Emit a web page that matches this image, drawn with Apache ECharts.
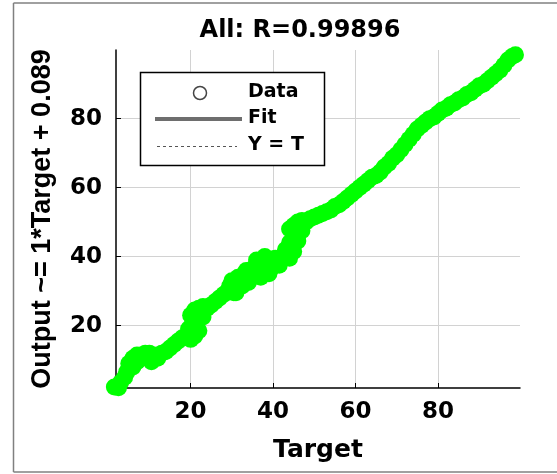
<!DOCTYPE html>
<html><head><meta charset="utf-8">
<script src="https://cdn.jsdelivr.net/npm/echarts@6/dist/echarts.min.js"></script>
<style>html,body{margin:0;padding:0;background:#fff;overflow:hidden}#c{width:557px;height:474px;display:block}</style>
</head><body><div id="c"></div>
<script>
const titleText = 'All: R=0.99896';
const xName = 'Target';
const yName = 'Output ~= 1*Target + 0.089';
const axisMin = 1.9, axisMax = 99.9;
const tickValues = [20, 40, 60, 80];
const legendLabels = ['Data', 'Fit', 'Y = T'];

// Target values (x) of the data points
const targets = [
  1.5, 2.5, 3, 4, 4.5, 5, 5, 6, 6, 7,
  7, 8, 8, 9, 9, 10, 10, 11, 12, 13,
  14, 15, 16, 17, 18, 19, 19.5, 20, 20, 20,
  21, 21, 21, 22, 22, 22, 23, 23, 24, 25,
  26, 27, 28, 29, 30, 31, 32, 33, 33, 34,
  35, 35, 36, 36, 37, 38, 38, 39, 40, 41,
  42, 43, 43, 44, 44, 44, 45, 45, 45, 46,
  46, 46, 47, 47, 48, 49, 50, 51, 52, 53,
  54, 55, 56, 57, 58, 59, 60, 61, 62, 63,
  64, 65, 66, 67, 68, 69, 70, 71, 72, 73,
  74, 75, 76, 77, 78, 79, 80, 81, 82, 83,
  84, 85, 86, 87, 88, 89, 90, 91, 92, 93,
  94, 95, 96, 97, 98, 98.8,
  10.5, 12, 29.5, 30.5, 31.5, 32.5, 33.5, 39.5, 40.5, 41.5,
  30, 31, 34, 36, 37, 38, 39
];
// Network outputs (y) of the data points
const outputs = [
  2.2, 2.0, 3.5, 5, 6.5, 7.5, 9, 8, 10.5, 9.5,
  11.5, 10.5, 11.5, 11, 12, 11, 12, 11.5, 11.5, 12,
  12.5, 13.5, 14.5, 15.5, 16.5, 17, 19, 16, 19.5, 23,
  17, 20.5, 24.5, 18.5, 22, 25, 22.5, 25.5, 25, 26,
  27, 28, 29, 30, 31, 32, 33, 33.5, 35, 35,
  34, 36.5, 34.5, 37.5, 36.5, 35.5, 38.5, 37.5, 38, 38.5,
  39.5, 40, 42, 39.5, 44, 48, 41.5, 45, 49, 44.5,
  47.5, 50, 47.5, 50.5, 50, 51, 51.5, 52, 52.5, 53,
  53.5, 54.5, 55, 56, 57, 58, 59, 60, 61, 62,
  63, 63.5, 64.5, 66, 67, 68.5, 69.5, 71, 72.5, 74,
  75.5, 77, 78, 79, 80, 80.5, 81.5, 82.5, 83, 84,
  84.5, 85.5, 86, 87, 87.5, 88.5, 89.5, 90, 91, 92,
  93, 94, 95.5, 97, 98, 98.5,
  9.5, 10.5, 31.5, 29.5, 34, 31.5, 36, 36.5, 39.5, 37.5,
  33, 29.5, 32.5, 39, 34, 40, 35
];
const fitLine = [[1.9, 1.989], [99.9, 99.989]];
const identityLine = [[1.9, 1.9], [99.9, 99.9]];

const scatterData = targets.map((t, i) => [t, outputs[i]]);
const hFont = 'DejaVu Sans';

function axisCfg(name, gap, isY) {
  return {
    type: 'value', min: axisMin, max: axisMax,
    name: name, nameLocation: 'middle', nameGap: gap,
    nameRotate: isY ? 90 : 0,
    nameTextStyle: isY
      ? { fontFamily: 'Liberation Sans', fontWeight: 'bold', fontSize: 27, color: '#000' }
      : { fontFamily: hFont, fontWeight: 'bold', fontSize: 25, color: '#000' },
    axisLine: { show: true, onZero: false, lineStyle: { color: '#000', width: 1.5 } },
    axisTick: { show: true, inside: true, length: 5, customValues: tickValues, lineStyle: { color: '#000', width: 1 } },
    axisLabel: { customValues: tickValues, fontFamily: hFont, fontWeight: 'bold', fontSize: 23, color: '#000', margin: isY ? 14 : 13 },
    splitLine: { show: true, lineStyle: { color: '#d2d2d2', width: 1 } }
  };
}

const chart = echarts.init(document.getElementById('c'), null, { renderer: 'canvas' });
chart.setOption({
  animation: false,
  backgroundColor: '#fff',
  title: {
    text: titleText, left: 295, top: 14, textAlign: 'center',
    textStyle: { fontFamily: hFont, fontWeight: 'bold', fontSize: 24, color: '#000' }
  },
  grid: { left: 116, right: 37, top: 50, bottom: 86 },
  xAxis: axisCfg(xName, 50, false),
  yAxis: axisCfg(yName, 60, true),
  series: [
    { name: legendLabels[2], type: 'line', data: identityLine, symbol: 'none', z: 1,
      lineStyle: { color: '#444', width: 1, type: [3, 3] } },
    { name: legendLabels[1], type: 'line', data: fitLine, symbol: 'none', z: 2,
      lineStyle: { color: '#6e6e6e', width: 3 } },
    { name: legendLabels[0], type: 'scatter', data: scatterData, symbol: 'circle', symbolSize: 17,
      clip: false, z: 3, itemStyle: { color: '#00ff00', opacity: 1 } }
  ],
  graphic: [
    { type: 'line', shape: { x1: 13.5, y1: 3, x2: 557, y2: 3 }, style: { stroke: '#808080', lineWidth: 1.5 }, silent: true },
    { type: 'line', shape: { x1: 13.5, y1: 3, x2: 13.5, y2: 472 }, style: { stroke: '#808080', lineWidth: 1.5 }, silent: true },
    { type: 'line', shape: { x1: 13.5, y1: 472, x2: 557, y2: 472 }, style: { stroke: '#808080', lineWidth: 1.5 }, silent: true },
    { type: 'rect', z: 100, shape: { x: 140.5, y: 72.5, width: 184, height: 93 }, style: { fill: '#fff', stroke: '#000', lineWidth: 1.5 } },
    { type: 'circle', z: 101, shape: { cx: 200, cy: 93, r: 6.5 }, style: { fill: '#fff', stroke: '#444', lineWidth: 1.5 } },
    { type: 'text', z: 101, x: 248, y: 92, style: { text: legendLabels[0], font: 'bold 19px "DejaVu Sans"', fill: '#000', verticalAlign: 'middle' } },
    { type: 'line', z: 101, shape: { x1: 155, y1: 119, x2: 242, y2: 119 }, style: { stroke: '#6e6e6e', lineWidth: 4 } },
    { type: 'text', z: 101, x: 248, y: 118, style: { text: legendLabels[1], font: 'bold 19px "DejaVu Sans"', fill: '#000', verticalAlign: 'middle' } },
    { type: 'line', z: 101, shape: { x1: 157, y1: 146.5, x2: 237, y2: 146.5 }, style: { stroke: '#555', lineWidth: 1, lineDash: [3, 3] } },
    { type: 'text', z: 101, x: 248, y: 145.5, style: { text: legendLabels[2], font: 'bold 19px "DejaVu Sans"', fill: '#000', verticalAlign: 'middle' } }
  ]
});
</script>
</body></html>
